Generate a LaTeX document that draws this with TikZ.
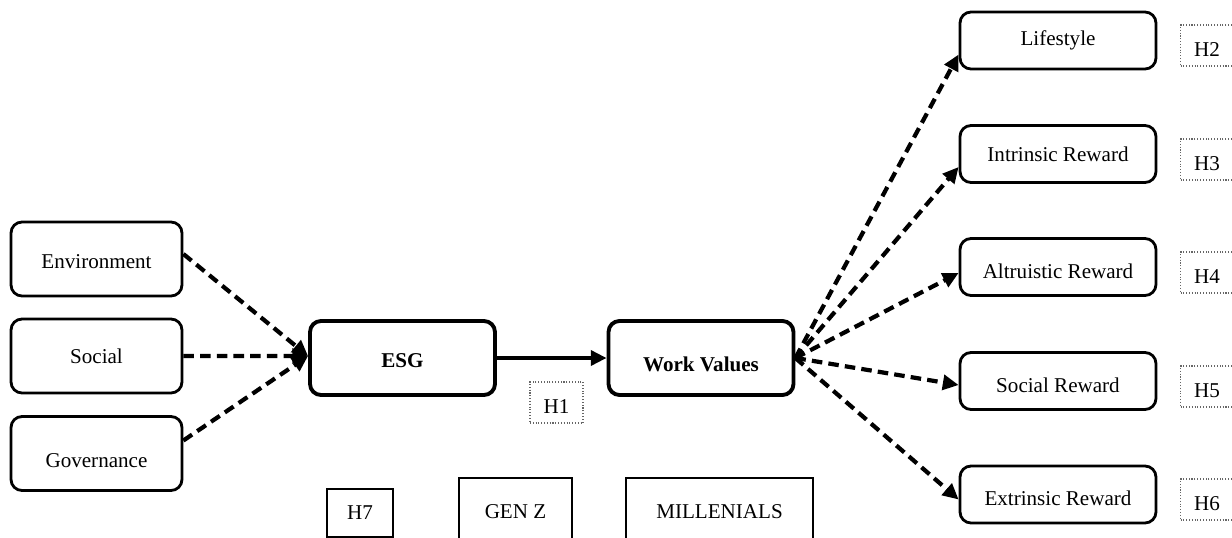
\documentclass[tikz,border=0pt]{standalone}
\usepackage{fontspec}
\setmainfont{Liberation Serif}
\usetikzlibrary{arrows.meta}

\begin{document}
\begin{tikzpicture}[x=0.02cm, y=-0.02cm, font=\fontsize{12}{14}\selectfont, >={Triangle[length=9pt,width=8.5pt]},
 cons/.style={draw, line width=1.6pt, rounded corners=0.22cm, minimum width=3.42cm, minimum height=1.48cm, inner sep=0pt},
 core/.style={cons, line width=2.2pt, minimum width=3.7cm, font=\fontsize{12}{14}\selectfont\bfseries},
 outc/.style={cons, minimum width=3.92cm, minimum height=1.14cm},
 hyp/.style={draw=black!60, densely dotted, line width=0.6pt, minimum width=1.06cm, minimum height=0.82cm, inner sep=0pt},
 grp/.style={draw, line width=0.7pt, inner sep=0pt},
 dasharrow/.style={->, line width=2.4pt, dash pattern=on 6pt off 3.5pt},
 drop/.style={text height=#1, text depth=0pt}]
\useasboundingbox (0,0) rectangle (1232,538);
\clip (0,0) rectangle (1232,538);

% ESG dimensions
\node[cons, drop=11pt] (env) at (96.5,259) {Environment};
\node[cons] (soc) at (96.5,356) {Social};
\node[cons, drop=15.5pt] (gov) at (96.5,453.5) {Governance};

\node[core, drop=11pt] (esg) at (402.5,358) {ESG};
\node[core, drop=15pt] (wv) at (701,358) {Work Values};
\node[hyp, drop=12pt] (h1) at (556.5,402.5) {H1};

% work value outcomes
\node[outc] (life) at (1058,40.5) {Lifestyle};
\node[outc] (intr) at (1058,154) {Intrinsic Reward};
\node[outc, drop=13.5pt] (altr) at (1058,267) {Altruistic Reward};
\node[outc, drop=13pt] (socr) at (1058,381) {Social Reward};
\node[outc, drop=13pt] (extr) at (1058,494.5) {Extrinsic Reward};

\node[hyp, drop=12.5pt] (h2) at (1207,45.5) {H2};
\node[hyp, drop=12.5pt] (h3) at (1207,159.5) {H3};
\node[hyp, drop=12.5pt] (h4) at (1207,272.5) {H4};
\node[hyp, drop=12.5pt] (h5) at (1207,386.5) {H5};
\node[hyp, drop=12.5pt] (h6) at (1207,499.5) {H6};

% generations
\node[grp, minimum width=1.32cm, minimum height=0.96cm] (h7) at (360,513) {H7};
\node[grp, minimum width=2.26cm, minimum height=1.4cm, drop=6pt] (genz) at (515.5,513) {GEN Z};
\node[grp, minimum width=3.74cm, minimum height=1.4cm, drop=6pt] (mill) at (719.5,513) {MILLENIALS};

\draw[dasharrow] ([yshift=0.1cm]env.east) -- ([yshift=0.04cm]esg.west);
\draw[dasharrow] (soc.east) -- ([yshift=0.04cm]esg.west);
\draw[dasharrow] ([yshift=0.26cm]gov.east) -- ([yshift=0.04cm]esg.west);
\draw[->, line width=2.2pt] (esg) -- (wv);

\draw[dasharrow] (wv.east) -- ([yshift=-0.28cm]life.west);
\draw[dasharrow] (wv.east) -- ([yshift=-0.26cm]intr.west);
\draw[dasharrow] (wv.east) -- ([yshift=-0.12cm]altr.west);
\draw[dasharrow] (wv.east) -- ([yshift=-0.08cm]socr.west);
\draw[dasharrow] (wv.east) -- ([yshift=-0.1cm]extr.west);
\end{tikzpicture}
\end{document}
